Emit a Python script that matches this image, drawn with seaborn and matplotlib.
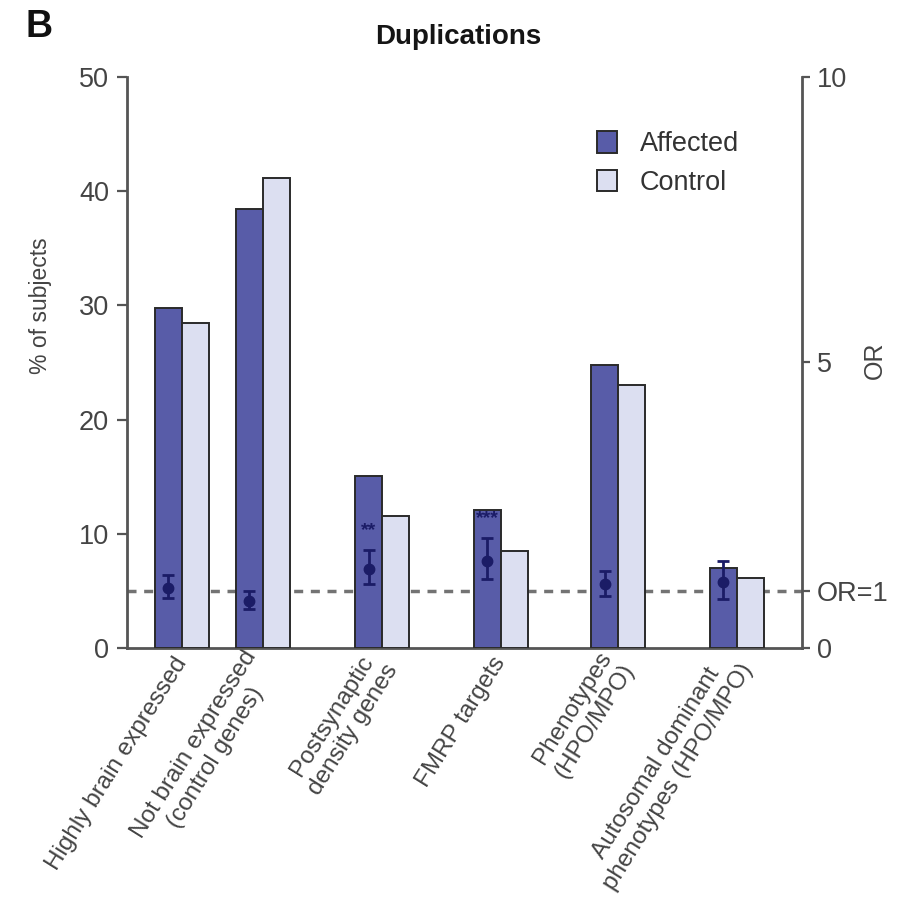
import matplotlib
matplotlib.use("Agg")
import matplotlib.pyplot as plt
import matplotlib.transforms as mtransforms
from matplotlib.lines import Line2D
import pandas as pd
import seaborn as sns

# ---- data -------------------------------------------------------------
categories = [
    "Highly brain expressed",
    "Not brain expressed\n(control genes)",
    "Postsynaptic\ndensity genes",
    "FMRP targets",
    "Phenotypes\n(HPO/MPO)",
    "Autosomal dominant\nphenotypes (HPO/MPO)",
]
group_labels = ["Affected", "Control"]
affected_pct = [29.8, 38.4, 15.1, 12.1, 24.8, 7.0]
control_pct = [28.5, 41.2, 11.6, 8.5, 23.0, 6.1]
odds_ratio = [1.05, 0.82, 1.39, 1.53, 1.12, 1.16]
or_ci_low = [0.88, 0.68, 1.12, 1.21, 0.91, 0.86]
or_ci_high = [1.28, 1.00, 1.72, 1.93, 1.35, 1.53]
significance = ["", "", "**", "***", "", ""]

# ---- layout -----------------------------------------------------------
# category centres on a numeric x axis (the first two groups sit closer)
x_centres = [0.0, 0.68, 1.69, 2.69, 3.68, 4.68]

AFF_COLOR = "#585ca8"
CTL_COLOR = "#dcdff1"
EDGE = "#2a2a2a"
NAVY = "#1b1c66"
AXIS_GREY = "#555555"
TEXT_GREY = "#444444"

sns.set_style("white")
plt.rcParams["font.family"] = ["Liberation Sans", "DejaVu Sans"]

df = pd.DataFrame({
    "pos": x_centres + x_centres,
    "pct": affected_pct + control_pct,
    "group": [group_labels[0]] * len(x_centres) + [group_labels[1]] * len(x_centres),
})

fig = plt.figure(figsize=(9.02, 9.19), dpi=100)
ax = fig.add_axes([0.1408, 0.2949, 0.7483, 0.6213])

sns.barplot(
    data=df, x="pos", y="pct", hue="group", hue_order=group_labels,
    palette=[AFF_COLOR, CTL_COLOR], native_scale=True, width=0.67,
    saturation=1, errorbar=None, edgecolor=EDGE, linewidth=1.4,
    ax=ax, zorder=3,
)

ax.set_xlim(-0.464, 5.232)
ax.set_ylim(0, 50)
ax.set_yticks(range(0, 51, 10))
ax.set_xticks(x_centres)
ax.set_xticklabels(categories, rotation=58, ha="right", va="center",
                   rotation_mode="anchor", multialignment="center",
                   fontsize=17.5, color=TEXT_GREY)
ax.tick_params(axis="x", length=0, pad=8)
ax.tick_params(axis="y", length=7, width=1.6, color=AXIS_GREY,
               labelsize=19.5, labelcolor=TEXT_GREY, pad=6)
ax.set_xlabel("")
ax.set_ylabel("% of subjects", fontsize=16.5, color=TEXT_GREY)
ax.yaxis.set_label_coords(-0.111, 0.6)
for side in ("top", "right"):
    ax.spines[side].set_visible(False)
for side in ("left", "bottom"):
    ax.spines[side].set_color(AXIS_GREY)
    ax.spines[side].set_linewidth(2)

# ---- odds ratio axis --------------------------------------------------
ax2 = ax.twinx()
ax2.set_ylim(0, 10)
ax2.set_yticks([0, 1, 5, 10])
ax2.set_yticklabels(["0", "OR=1", "5", "10"])
ax2.tick_params(axis="y", length=6, width=1.6, color=AXIS_GREY,
                labelsize=19.5, labelcolor=TEXT_GREY, pad=5)
for side in ("top", "left", "bottom"):
    ax2.spines[side].set_visible(False)
ax2.spines["right"].set_color(AXIS_GREY)
ax2.spines["right"].set_linewidth(2)
ax2.set_ylabel("OR", fontsize=18, color=TEXT_GREY)
ax2.yaxis.set_label_coords(1.108, 0.504)
ax2.yaxis.label.set_va("center")

# OR = 1 reference line, drawn behind the bars
ref_tf = mtransforms.blended_transform_factory(ax.transAxes, ax2.transData)
ax.add_line(Line2D([0, 1], [1, 1], transform=ref_tf, color="#737373",
                   lw=2.5, dashes=(2.6, 2.2), zorder=1))

# odds ratios sit on the "Affected" bars
aff_bars = sorted(ax.containers[0], key=lambda b: b.get_x())
aff_x = [b.get_x() + b.get_width() / 2 for b in aff_bars]
yerr = [[o - lo for o, lo in zip(odds_ratio, or_ci_low)],
        [hi - o for o, hi in zip(odds_ratio, or_ci_high)]]
ax2.errorbar(aff_x, odds_ratio, yerr=yerr, fmt="o", color=NAVY, ms=7.5,
             capsize=4, elinewidth=2, capthick=2, zorder=5)
for xp, hi, s in zip(aff_x, or_ci_high, significance):
    if s:
        ax2.text(xp, hi + 0.34, s, ha="center", va="center", fontsize=14,
                 fontweight="bold", color=NAVY)

# ---- legend -----------------------------------------------------------
old = ax.get_legend()
handles = old.legend_handles
labels = [t.get_text() for t in old.get_texts()]
old.remove()
ax.legend(handles, labels, loc="upper left", bbox_to_anchor=(0.696, 0.905),
          frameon=False, fontsize=19.5, handlelength=0.75, handleheight=0.85,
          handletextpad=0.85, labelspacing=0.45, borderpad=0, borderaxespad=0,
          labelcolor="#333333")

# ---- titles -----------------------------------------------------------
fig.text(458 / 902, 1 - 37 / 919, "Duplications", ha="center", va="center",
         fontsize=20, fontweight="bold", color="#151515")
fig.text(25 / 902, 1 - 27 / 919, "B", ha="left", va="center",
         fontsize=27, fontweight="bold", color="#111111")

fig.savefig("out.png", dpi=100)
